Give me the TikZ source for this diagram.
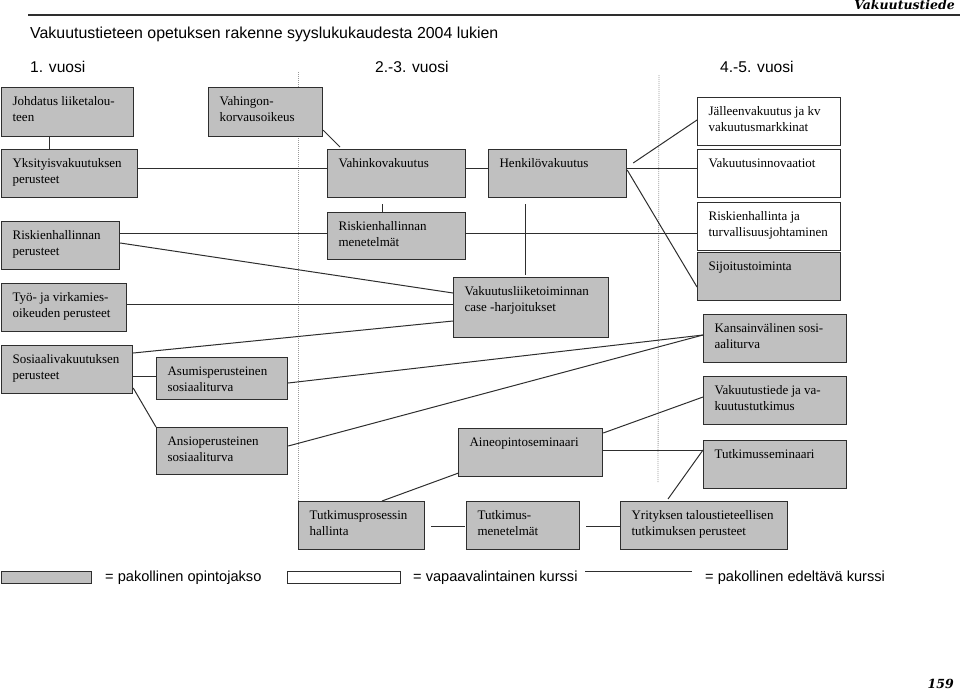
\documentclass[tikz,border=0pt]{standalone}
\usepackage{fontspec}
\setmainfont{Liberation Serif}
\newfontfamily\arialf{Liberation Sans}
\newfontfamily\dvs{DejaVu Serif}
\definecolor{boxgray}{HTML}{C0C0C0}
\definecolor{edgec}{HTML}{2E2E2E}
\definecolor{dotc}{HTML}{999999}
\newcommand\bxt[3]{\parbox[c][#2pt][t]{#1pt}{\fontsize{13}{16}\selectfont\parindent=0pt\leftskip=11pt\rule{0pt}{17.5pt}#3}}
\tikzset{
  gbox/.style={draw=edgec, line width=1.2pt, fill=boxgray, inner sep=0pt, anchor=north west},
  wbox/.style={draw=edgec, line width=1.2pt, fill=white, inner sep=0pt, anchor=north west},
  conn/.style={draw=edgec, line width=1pt},
  dotl/.style={draw=dotc, line width=0.8pt, dash pattern=on 1pt off 1pt},
  sanstxt/.style={anchor=base west, inner sep=0pt, font=\arialf\fontsize{15.6}{18}\selectfont},
  legtxt/.style={anchor=base west, inner sep=0pt, font=\arialf\fontsize{14.6}{18}\selectfont},
  hdrtxt/.style={anchor=base east, inner sep=0pt, font=\dvs\bfseries\itshape\fontsize{12.5}{14}\selectfont}
}
\begin{document}
\begin{tikzpicture}[x=1pt,y=-1pt]
\useasboundingbox (0,0) rectangle (960,691);
% header
\draw[edgec, line width=1.1pt] (28,15) -- (960,15);
\node[hdrtxt] (hdr) at (955,9.5) {Vakuutustiede};
\node[sanstxt, font=\arialf\fontsize{15.9}{18}\selectfont] (title) at (30,38) {Vakuutustieteen opetuksen rakenne syyslukukaudesta 2004 lukien};
\node[sanstxt] (y1) at (30,72) {1. vuosi};
\node[sanstxt] (y23) at (375,72) {2.-3. vuosi};
\node[sanstxt] (y45) at (720,72) {4.-5. vuosi};
% dotted separators
\coordinate (d1a) at (298,72); \coordinate (d1b) at (298,501);
\coordinate (d2a) at (659,75); \coordinate (d2b) at (658,482);
\draw[dotl] (d1a) -- (d1b);
\draw[dotl] (d2a) -- (d2b);
% boxes column 1
\node[gbox] (joh) at (1,87) {\bxt{132}{49}{Johdatus liiketalou-\\teen}};
\node[gbox] (vko) at (208,87) {\bxt{114}{49}{Vahingon-\\korvausoikeus}};
\node[gbox] (yks) at (1,149) {\bxt{136}{48}{Yksityisvakuutuksen\\perusteet}};
\node[gbox] (rhp) at (1,221) {\bxt{118}{48}{Riskienhallinnan\\perusteet}};
\node[gbox] (tyo) at (1,283) {\bxt{125}{48}{Työ- ja virkamies-\\oikeuden perusteet}};
\node[gbox] (sos) at (1,345) {\bxt{131}{48}{Sosiaalivakuutuksen\\perusteet}};
\node[gbox] (asu) at (156,357) {\bxt{131}{42}{Asumisperusteinen\\sosiaaliturva}};
\node[gbox] (ans) at (156,427) {\bxt{131}{47}{Ansioperusteinen\\sosiaaliturva}};
% column 2
\node[gbox] (vah) at (327,149) {\bxt{138}{48}{Vahinkovakuutus}};
\node[gbox] (hen) at (488,149) {\bxt{138}{48}{Henkilövakuutus}};
\node[gbox] (rhm) at (327,212) {\bxt{138}{47}{Riskienhallinnan\\menetelmät}};
\node[gbox] (vlt) at (453,277) {\bxt{155}{60}{Vakuutusliiketoiminnan\\case -harjoitukset}};
\node[gbox] (ain) at (458,428) {\bxt{144}{48}{Aineopintoseminaari}};
% column 3
\node[wbox] (jal) at (697,97) {\bxt{143}{48}{Jälleenvakuutus ja kv\\vakuutusmarkkinat}};
\node[wbox] (inn) at (697,149) {\bxt{143}{48}{Vakuutusinnovaatiot}};
\node[wbox] (rht) at (697,202) {\bxt{143}{48}{Riskienhallinta ja\\turvallisuusjohtaminen}};
\node[gbox] (sij) at (697,252) {\bxt{143}{48}{Sijoitustoiminta}};
\node[gbox] (kan) at (703,314) {\bxt{143}{48}{Kansainvälinen sosi-\\aaliturva}};
\node[gbox] (vtt) at (703,376) {\bxt{143}{48}{Vakuutustiede ja va-\\kuutustutkimus}};
\node[gbox] (tse) at (703,440) {\bxt{143}{48}{Tutkimusseminaari}};
% bottom row
\node[gbox] (tph) at (298,501) {\bxt{126}{48}{Tutkimusprosessin\\hallinta}};
\node[gbox] (tme) at (466,501) {\bxt{113}{48}{Tutkimus-\\menetelmät}};
\node[gbox] (yri) at (620,501) {\bxt{167}{48}{Yrityksen taloustieteellisen\\tutkimuksen perusteet}};
% connectors
\draw[conn] ([xshift=48pt]joh.south west) -- ([xshift=48pt]yks.north west);
\draw[conn] ([yshift=7pt]vko.south east) -- ([xshift=13pt,yshift=2pt]vah.north west);
\draw[conn] ([yshift=-19pt]yks.north east) -- ([yshift=-19pt]vah.north west);
\draw[conn] ([yshift=-19pt]vah.north east) -- ([yshift=-19pt]hen.north west);
\draw[conn] ([yshift=-19pt]hen.north east) -- ([yshift=-19pt]inn.north west);
\draw[conn] ([xshift=6pt,yshift=-14pt]hen.north east) -- ([yshift=-23pt]jal.north west);
\draw[conn] ([yshift=-21pt]hen.north east) -- ([yshift=-35pt]sij.north west);
\draw[conn] ([xshift=55pt,yshift=-6pt]vah.south west) -- ([xshift=55pt]rhm.north west);
\draw[conn] ([yshift=-12pt]rhp.north east) -- ([yshift=-21pt]rhm.north west);
\draw[conn] ([yshift=-21pt]rhm.north east) -- ([yshift=-31pt]rht.north west);
\draw[conn] ([xshift=37pt,yshift=-6pt]hen.south west) -- ([xshift=72pt,yshift=2pt]vlt.north west);
\draw[conn] ([yshift=-22pt]rhp.north east) -- ([yshift=-16pt]vlt.north west);
\draw[conn] ([yshift=-21pt]tyo.north east) -- ([yshift=-27pt]vlt.north west);
\draw[conn] ([yshift=-8pt]sos.north east) -- ([yshift=-44pt]vlt.north west);
\draw[conn] ([yshift=-31pt]sos.north east) -- ([yshift=-19pt]asu.north west);
\draw[conn] ([yshift=-43pt]sos.north east) -- (ans.north west);
\draw[conn] ([yshift=-26pt]asu.north east) -- ([yshift=-21pt]kan.north west);
\draw[conn] ([yshift=-19pt]ans.north east) -- ([yshift=-21pt]kan.north west);
\draw[conn] ([yshift=-5pt]ain.north east) -- ([yshift=-21pt]vtt.north west);
\draw[conn] ([yshift=-22pt]ain.north east) -- ([yshift=-10pt]tse.north west);
\draw[conn] ([xshift=84pt]tph.north west) -- ([yshift=4pt]ain.south west);
\draw[conn] ([xshift=6pt,yshift=-25pt]tph.north east) -- ([xshift=-1pt,yshift=-25pt]tme.north west);
\draw[conn] ([xshift=6pt,yshift=-25pt]tme.north east) -- ([yshift=-25pt]yri.north west);
\draw[conn] ([xshift=48pt,yshift=2pt]yri.north west) -- ([yshift=-10pt]tse.north west);
% legend
\node[gbox, minimum width=90pt, minimum height=12pt] (lg) at (1,571) {};
\node[legtxt] (lgt) at (105,581) {= pakollinen opintojakso};
\node[wbox, minimum width=113pt, minimum height=12pt] (lw) at (287,571) {};
\node[legtxt] (lwt) at (413,581) {= vapaavalintainen kurssi};
\coordinate (la) at (585,571); \coordinate (lb) at (692,571);
\draw[conn] (la) -- (lb);
\node[legtxt] (llt) at (705,581) {= pakollinen edeltävä kurssi};
% page number
\node[hdrtxt] (pg) at (954,688) {159};
\end{tikzpicture}
\end{document}
